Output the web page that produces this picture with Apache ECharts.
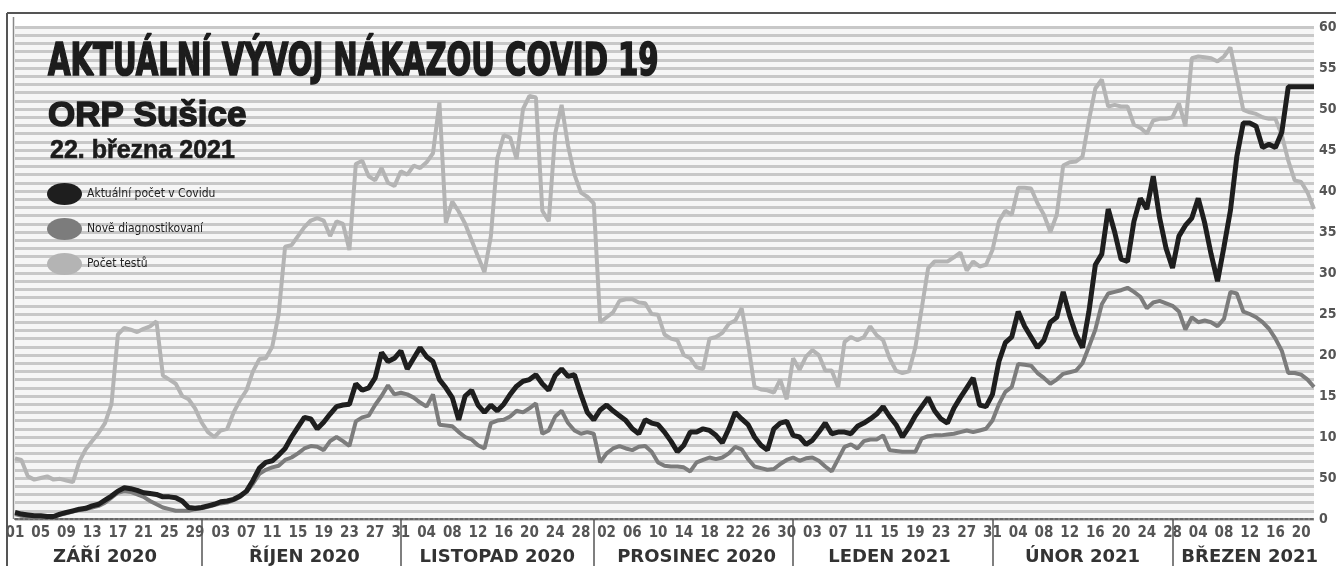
<!DOCTYPE html>
<html>
<head>
<meta charset="utf-8">
<script src="https://cdn.jsdelivr.net/npm/echarts@6/dist/echarts.min.js"></script>
<style>
html,body{margin:0;padding:0;background:#fff;}
#chart{width:1336px;height:566px;}
</style>
</head>
<body>
<div id="chart"></div>
<script>
// ---- data ----
const startDate = '2020-09-01';
const dayCount = 203; // 1.9.2020 – 22.3.2021
const monthNames = ['ZÁŘÍ 2020','ŘÍJEN 2020','LISTOPAD 2020','PROSINEC 2020','LEDEN 2021','ÚNOR 2021','BŘEZEN 2021'];
const monthLabelIdx = [14,45,75,106,136,166,192];
const monthEndIdx = [29,60,90,121,152,180];
const yTicks = [0,50,100,150,200,250,300,350,400,450,500,550,600];

const activeCases = [
8,6,5,4,4,3,3,6,8,10,12,13,16,18,23,28,34,38,37,35,32,31,30,27,27,26,22,14,13,14,
16,18,21,22,24,28,34,47,62,69,71,78,86,100,112,124,122,110,118,128,137,139,140,165,157,160,172,203,192,196,205,
183,196,209,198,192,170,160,148,121,150,157,139,130,139,132,140,152,162,168,170,176,165,157,175,183,174,176,152,130,121,
133,139,132,126,120,110,104,121,117,115,106,95,82,90,106,106,110,108,102,93,110,130,122,115,100,90,84,110,117,119,102,
100,91,96,106,117,104,106,106,104,113,117,122,128,137,125,115,100,112,126,137,148,132,122,117,135,148,160,172,139,137,152,
192,215,222,253,235,222,209,218,240,246,277,248,225,209,253,310,323,378,350,317,314,363,391,378,418,367,330,306,
345,358,367,391,361,323,290,332,376,442,483,483,479,453,457,453,472,527,527,527,527,527
];
const newCases = [
6,4,3,2,2,2,3,5,7,9,11,12,14,16,20,26,32,34,33,30,27,22,18,14,12,10,10,10,12,13,
15,17,19,20,23,27,33,43,55,60,63,65,72,75,80,86,89,88,84,95,100,95,89,119,124,126,139,150,163,152,154,
152,148,142,137,152,115,114,113,106,100,97,90,86,117,120,121,125,132,130,135,141,104,108,125,132,117,108,104,106,104,
69,80,86,89,86,84,88,89,82,69,65,64,64,63,58,69,72,75,73,75,80,88,85,73,64,62,60,61,67,72,75,
71,74,75,71,64,58,73,88,91,86,95,97,97,102,84,83,82,82,82,98,101,102,102,103,104,106,108,106,108,110,120,
140,155,161,189,188,187,178,172,165,170,177,179,181,190,210,231,262,275,277,279,282,277,271,257,264,266,263,260,
253,231,246,240,242,240,235,244,277,275,253,250,246,240,232,220,205,178,178,176,170,161
];
const testsCount = [
74,72,52,48,50,52,48,49,47,45,70,85,95,105,117,140,225,233,231,228,232,235,241,175,170,165,150,146,135,118,
106,100,108,110,130,145,157,180,195,196,210,250,332,334,345,356,364,367,364,345,363,360,328,433,437,418,413,428,410,406,424,
420,431,428,435,446,508,361,387,375,360,340,320,301,345,440,468,465,439,500,516,514,376,363,470,505,455,420,398,393,385,
240,246,252,266,268,268,264,263,250,249,225,220,218,200,196,185,183,220,222,227,238,242,257,214,161,158,157,154,170,146,196,
182,198,206,200,181,181,161,216,222,218,222,235,224,218,196,181,178,180,209,257,306,314,314,314,319,325,303,314,308,310,328,
363,376,371,404,404,403,385,371,350,371,431,435,436,442,486,525,536,503,505,503,503,481,477,470,486,488,488,490,
507,479,562,564,563,562,558,564,575,538,499,496,494,490,488,488,468,437,413,411,398,378
];

// ---- categories (dates) ----
const categories = [];
{
  const d0 = new Date(startDate + 'T12:00:00Z');
  for (let i = 0; i < dayCount; i++) {
    const d = new Date(d0.getTime() + i * 86400000);
    categories.push(d.toISOString().slice(0, 10));
  }
}

const NARROW = "'DejaVu Sans Condensed','Liberation Sans Narrow',sans-serif";
const chart = echarts.init(document.getElementById('chart'), null, {renderer: 'canvas'});

const ellipse = 'path://M0,11a17.5,11 0 1,0 35,0a17.5,11 0 1,0 -35,0z';

chart.setOption({
  animation: false,
  backgroundColor: '#ffffff',
  grid: {left: 15, right: 22, top: 27, bottom: 47, show: true, backgroundColor: '#f6f6f6', borderWidth: 0,
         containLabel: false, outerBoundsMode: 'none'},
  legend: {
    orient: 'vertical', left: 47, top: 183, padding: 0, itemWidth: 35, itemHeight: 22, itemGap: 13,
    data: [
      {name: 'Aktuální počet v Covidu', icon: ellipse},
      {name: 'Nově diagnostikovaní', icon: ellipse},
      {name: 'Počet testů', icon: ellipse}
    ],
    textStyle: {fontFamily: NARROW, fontSize: 12, color: '#222'}
  },
  xAxis: [
    {
      type: 'category', data: categories, boundaryGap: false, position: 'bottom',
      axisLine: {show: true, lineStyle: {color: '#666', width: 2, type: [3, 2]}},
      axisTick: {show: false},
      axisLabel: {interval: 3, margin: 7, formatter: v => v.slice(8), fontFamily: NARROW,
                  fontWeight: 'bold', fontSize: 15, color: '#555'},
      splitLine: {show: false}
    },
    {
      type: 'category', data: categories, boundaryGap: false, position: 'bottom',
      axisLine: {show: false},
      axisTick: {show: true, length: 47, interval: (i) => monthEndIdx.includes(i),
                 lineStyle: {color: '#555', width: 1.5}},
      axisLabel: {interval: (i) => monthLabelIdx.includes(i), margin: 29,
                  formatter: (v, i) => monthNames[monthLabelIdx.indexOf(i)],
                  fontFamily: "'DejaVu Sans',sans-serif", fontWeight: 'bold', fontSize: 18, color: '#333'},
      splitLine: {show: false}
    }
  ],
  yAxis: {
    type: 'value', position: 'right', min: 0, max: 600, interval: 50,
    axisLine: {show: false}, axisTick: {show: false},
    axisLabel: {margin: 5, fontFamily: NARROW, fontWeight: 'bold', fontSize: 14, color: '#555',
                formatter: v => yTicks.includes(v) ? String(v) : ''},
    splitLine: {show: true, lineStyle: {color: '#c8c8c8', width: 3}},
    minorTick: {show: false, splitNumber: 5},
    minorSplitLine: {show: true, lineStyle: {color: '#c8c8c8', width: 3}}
  },
  series: [
    {name: 'Počet testů', type: 'line', data: testsCount, showSymbol: false, symbol: 'none',
     lineStyle: {color: '#b4b4b4', width: 4}, itemStyle: {color: '#b4b4b4'}, z: 2},
    {name: 'Nově diagnostikovaní', type: 'line', data: newCases, showSymbol: false, symbol: 'none',
     lineStyle: {color: '#7c7c7c', width: 4}, itemStyle: {color: '#7c7c7c'}, z: 3},
    {name: 'Aktuální počet v Covidu', type: 'line', data: activeCases, showSymbol: false, symbol: 'none',
     lineStyle: {color: '#1e1e1e', width: 5}, itemStyle: {color: '#1e1e1e'}, z: 4}
  ],
  graphic: [
    {type: 'line', shape: {x1: 7, y1: 13, x2: 1336, y2: 13}, style: {stroke: '#555', lineWidth: 2}, z: 10},
    {type: 'line', shape: {x1: 7, y1: 13, x2: 7, y2: 566}, style: {stroke: '#555', lineWidth: 2}, z: 10},
    {type: 'line', shape: {x1: 13.5, y1: 17, x2: 13.5, y2: 519}, style: {stroke: '#888', lineWidth: 1.5}, z: 10},
    {type: 'text', x: 48, y: 42, scaleX: 0.83, scaleY: 1.12, z: 20,
     style: {text: 'AKTUÁLNÍ VÝVOJ NÁKAZOU COVID 19', font: 'bold 39px ' + NARROW, fill: '#1c1c1c',
             stroke: '#1c1c1c', lineWidth: 1.5}},
    {type: 'text', x: 48, y: 99, z: 20,
     style: {text: 'ORP Sušice', font: 'bold 35px "Liberation Sans",Arial,sans-serif', fill: '#1c1c1c',
             stroke: '#1c1c1c', lineWidth: 1.5}},
    {type: 'text', x: 50, y: 139, z: 20,
     style: {text: '22. března 2021', font: 'bold 25px "Liberation Sans",Arial,sans-serif', fill: '#1c1c1c',
             stroke: '#1c1c1c', lineWidth: 0.6}}
  ]
});
</script>
</body>
</html>
